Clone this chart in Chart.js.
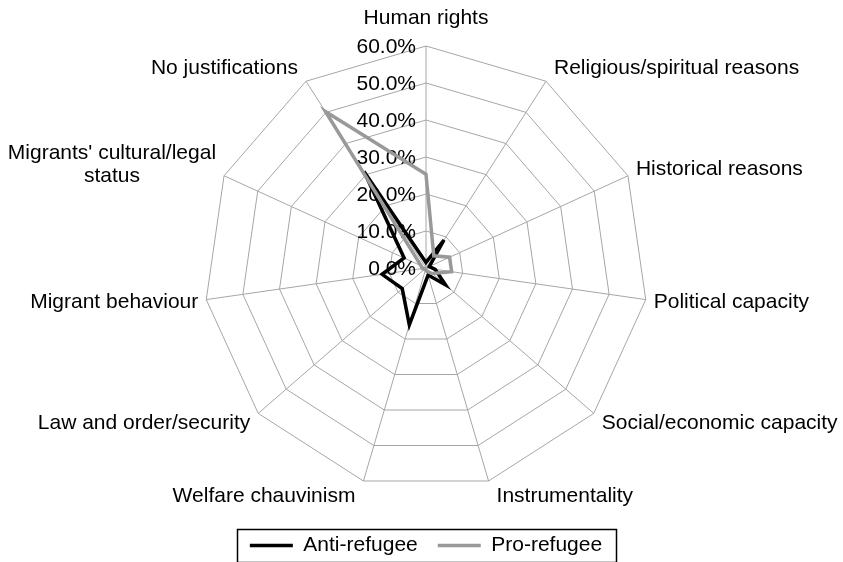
<!DOCTYPE html>
<html>
<head>
<meta charset="utf-8">
<title>Justifications radar</title>
<script src="https://cdn.jsdelivr.net/npm/chart.js@4.4.1/dist/chart.umd.min.js"></script>
<style>
  html, body { margin: 0; padding: 0; background: #fff; }
  #wrap { width: 843px; height: 562px; position: relative; }
</style>
</head>
<body>
<div id="wrap"><canvas id="chart"></canvas></div>
<script>
// categories, clockwise from the top
const categories = [
  'Human rights',
  'Religious/spiritual reasons',
  'Historical reasons',
  'Political capacity',
  'Social/economic capacity',
  'Instrumentality',
  'Welfare chauvinism',
  'Law and order/security',
  'Migrant behaviour',
  ["Migrants' cultural/legal", 'status'],
  'No justifications'
];

// percentages
const antiRefugee = [1.5, 9, 1, 2.5, 7, 2, 16, 8.5, 12, 6.5, 31];
const proRefugee = [25.3, 3.9, 7, 7, 2.3, 1, 0.5, 0.5, 1, 1.5, 50.3];

const tickValues = [0, 10, 20, 30, 40, 50, 60];

const FONT = '21px "Liberation Sans", Arial, sans-serif';

Chart.defaults.font.family = '"Liberation Sans", Arial, sans-serif';
Chart.defaults.font.size = 21;
Chart.defaults.color = '#000';

// tick labels, axis labels and the legend frame
const radarText = {
  id: 'radarText',
  afterLayout(chart) {
    const a = chart.chartArea;
    const s = chart.scales.r;
    s.xCenter = Math.round((a.left + a.right) / 2);
    s.yCenter = Math.round((a.top + a.bottom) / 2);
    s.drawingArea = Math.min(a.right - a.left, a.bottom - a.top) / 2;
  },
  beforeDatasetsDraw(chart) {
    const s = chart.scales.r;
    const ctx = chart.ctx;
    ctx.save();
    ctx.font = FONT;
    ctx.fillStyle = '#000';

    ctx.textAlign = 'right';
    ctx.textBaseline = 'middle';
    tickValues.forEach(v => {
      const p = s.getPointPositionForValue(0, v);
      ctx.fillText(v.toFixed(1) + '%', s.xCenter - 10, p.y + 1);
    });

    const lineH = 23;
    categories.forEach((lab, i) => {
      const lines = [].concat(lab);
      const p = s.getPointPosition(i, s.drawingArea);
      const ang = p.angle + Math.PI / 2;
      const sin = Math.sin(ang), cos = Math.cos(ang);
      const w = Math.max(...lines.map(t => ctx.measureText(t).width));
      const h = lines.length * lineH;
      let left;
      if (sin > 0.05) left = p.x + 8;
      else if (sin < -0.05) left = p.x - 8 - w;
      else left = p.x - w / 2;
      let yc = p.y - cos * (h / 2 + 4);
      if (Math.abs(sin) < 0.05 && cos > 0) yc -= 12;
      ctx.textAlign = 'center';
      lines.forEach((t, k) => {
        ctx.fillText(t, left + w / 2, yc - h / 2 + lineH * (k + 0.5));
      });
    });
    ctx.restore();
  },
  afterDraw(chart) {
    const boxes = chart.legend.legendHitBoxes;
    if (!boxes || !boxes.length) return;
    const x0 = Math.min(...boxes.map(b => b.left)) - 13;
    const x1 = Math.max(...boxes.map(b => b.left + b.width)) + 14;
    const y0 = boxes[0].top - 6;
    const y1 = boxes[0].top + boxes[0].height + 6;
    const ctx = chart.ctx;
    ctx.save();
    ctx.strokeStyle = '#000';
    ctx.lineWidth = 1.5;
    ctx.strokeRect(Math.round(x0) + 0.5, Math.round(y0) + 0.5, Math.round(x1 - x0), Math.round(y1 - y0));
    ctx.restore();
  }
};

new Chart(document.getElementById('chart'), {
  type: 'radar',
  data: {
    labels: categories,
    datasets: [
      {
        label: 'Anti-refugee',
        data: antiRefugee,
        borderColor: '#000000',
        backgroundColor: '#000000',
        borderWidth: 3.5,
        fill: false,
        pointRadius: 0,
        borderJoinStyle: 'miter',
        order: 2
      },
      {
        label: 'Pro-refugee',
        data: proRefugee,
        borderColor: '#999999',
        backgroundColor: '#999999',
        borderWidth: 3.5,
        fill: false,
        pointRadius: 0,
        borderJoinStyle: 'miter',
        order: 1
      }
    ]
  },
  options: {
    responsive: true,
    maintainAspectRatio: false,
    animation: false,
    layout: {
      padding: { left: 204, right: 195, top: 21, bottom: -4 }
    },
    plugins: {
      legend: {
        position: 'bottom',
        labels: {
          usePointStyle: true,
          pointStyle: 'line',
          pointStyleWidth: 43,
          boxWidth: 43,
          padding: 20,
          color: '#000',
          font: { size: 21 },
          sort: (a, b) => a.datasetIndex - b.datasetIndex
        }
      },
      tooltip: { enabled: false }
    },
    scales: {
      r: {
        min: 0,
        max: 60,
        ticks: { display: false, stepSize: 10 },
        pointLabels: { display: false },
        grid: { color: '#a6a6a6', lineWidth: 1 },
        angleLines: { color: '#a6a6a6', lineWidth: 1 }
      }
    }
  },
  plugins: [radarText]
});
</script>
</body>
</html>
